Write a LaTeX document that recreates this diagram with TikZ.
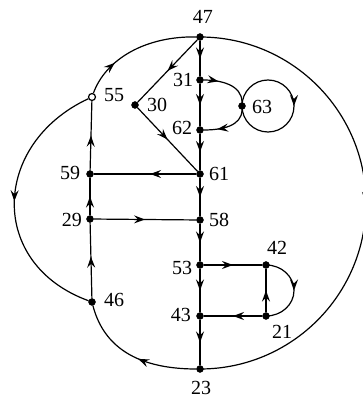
\documentclass[tikz,border=0pt]{standalone}
\usepackage{fontspec}
\setmainfont{Liberation Serif}
\usetikzlibrary{decorations.markings,arrows.meta}
\tikzset{
  dot/.style={circle,fill=black,draw=black,inner sep=0pt,minimum size=7pt},
  odot/.style={circle,fill=white,draw=black,line width=1.2pt,inner sep=0pt,minimum size=7pt},
  lbl/.style={inner sep=0pt,font=\fontsize{20}{23}\selectfont},
  edge/.style={line width=1.2pt},
  ma/.style={postaction={decorate,decoration={markings,
      mark=at position #1 with {\arrow{Stealth[length=11pt,width=8pt,inset=4pt]}}}}},
  ma/.default=0.5
}
\begin{document}
\begin{tikzpicture}[x=1pt,y=1pt]
\useasboundingbox (0,0) rectangle (363,400);
\clip (0,0) rectangle (363,400);
% nodes
\node[dot] (n47) at (200,363) {};
\node[dot] (n31) at (200,320) {};
\node[dot] (n62) at (200,270) {};
\node[dot] (n61) at (200,226) {};
\node[dot] (n58) at (200,180) {};
\node[dot] (n53) at (200,135) {};
\node[dot] (n43) at (200,84) {};
\node[dot] (n23) at (200,31) {};
\node[dot] (n30) at (135,295) {};
\node[dot] (n63) at (242,294) {};
\node[odot] (n55) at (92,303) {};
\node[dot] (n59) at (90,226) {};
\node[dot] (n29) at (90,181) {};
\node[dot] (n46) at (92,98) {};
\node[dot] (n42) at (266,135) {};
\node[dot] (n21) at (266,84) {};
% labels
\node[lbl] (l47) at (203,383) {47};
\node[lbl] (l31) at (183,320) {31};
\node[lbl] (l62) at (182,272) {62};
\node[lbl] (l61) at (219,226) {61};
\node[lbl] (l30) at (157,295) {30};
\node[lbl] (l63) at (262,293) {63};
\node[lbl] (l55) at (114,305) {55};
\node[lbl] (l59) at (70,227) {59};
\node[lbl] (l58) at (219,180) {58};
\node[lbl] (l29) at (72,180) {29};
\node[lbl] (l53) at (182,132) {53};
\node[lbl] (l42) at (277,152) {42};
\node[lbl] (l46) at (114,100) {46};
\node[lbl] (l43) at (181,85) {43};
\node[lbl] (l21) at (282,68) {21};
\node[lbl] (l23) at (201,12) {23};
% vertical chain
\draw[edge,ma] (n47) -- (n31);
\draw[edge,ma] (n31) -- (n62);
\draw[edge,ma] (n62) -- (n61);
\draw[edge,ma] (n61) -- (n58);
\draw[edge,ma] (n58) -- (n53);
\draw[edge,ma] (n53) -- (n43);
\draw[edge,ma] (n43) -- (n23);
% 30 branch
\draw[edge,ma] (n47) -- (n30);
\draw[edge,ma] (n30) -- (n61);
% 63 loops
\draw[edge,ma=0.3] (n31) to[out=0,in=90] (n63);
\draw[edge,ma=0.72] (n63) to[out=-90,in=0] (n62);
\draw[edge,ma] (n63.center) arc[start angle=180,end angle=-180,radius=26];
% left column
\draw[edge,ma=0.45] (n61) -- (n59);
\draw[edge,ma] (n59) -- (n55);
\draw[edge,ma] (n29) -- (n59);
\draw[edge,ma] (n29) -- (n58);
\draw[edge,ma=0.55] (n46) -- (n29);
% arcs
\draw[edge,ma=0.3] (n55) .. controls (105.7,340.6) and (145,364) .. (n47);
\draw[edge,ma] (n55) .. controls (-8.6,256) and (-12.3,136) .. (n46);
\draw[edge,ma=0.45] (n23) .. controls (130,31) and (102,59) .. (n46);
\draw[edge,ma] (n47.center) arc[start angle=90,end angle=-90,radius=166];
% lower right
\draw[edge,ma] (n53) -- (n42);
\draw[edge,ma] (n42.center) arc[start angle=90,end angle=-90,x radius=28,y radius=25.5];
\draw[edge,ma] (n21) -- (n42);
\draw[edge,ma] (n21) -- (n43);
\end{tikzpicture}
\end{document}
